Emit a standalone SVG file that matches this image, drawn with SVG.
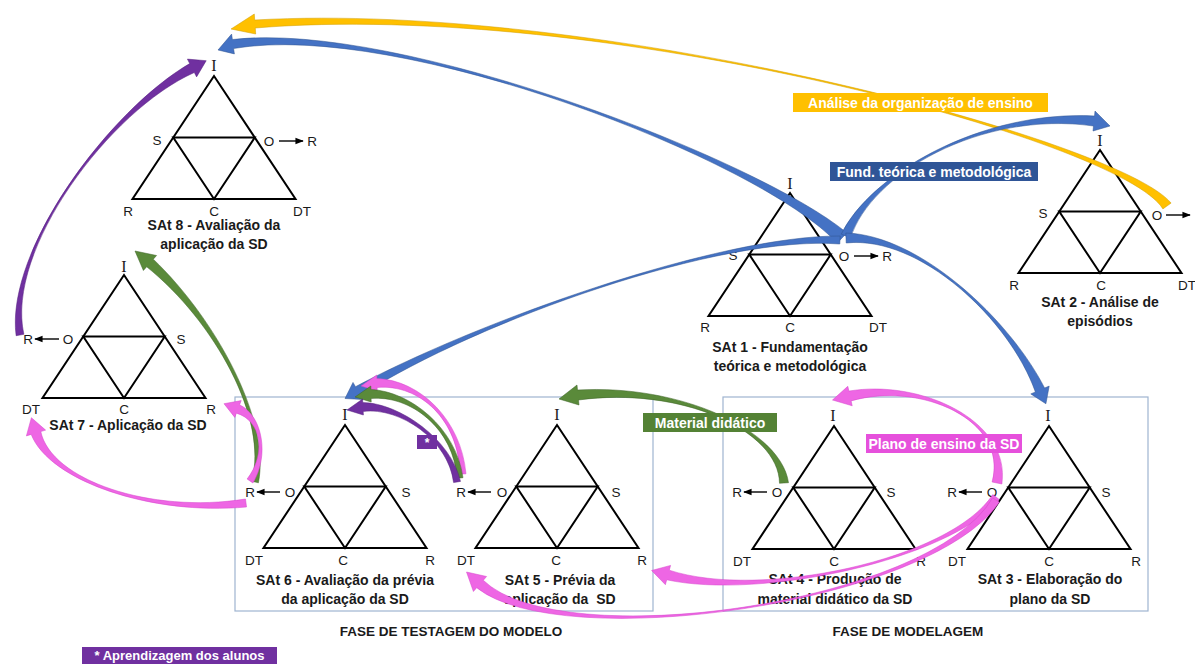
<svg xmlns="http://www.w3.org/2000/svg" xmlns:xlink="http://www.w3.org/1999/xlink" width="1195" height="664" viewBox="0 0 1195 664">
  <defs>
    <style>
      .tri { fill: none; stroke: #000; stroke-width: 2; stroke-linejoin: miter; }
      .v { font-family: "Liberation Sans", Arial, sans-serif; font-size: 13.5px; fill: #1a1a1a; text-anchor: middle; dominant-baseline: central; }
      .vi { font-family: "Liberation Serif", "Times New Roman", serif; font-size: 16px; fill: #1a1a1a; text-anchor: middle; dominant-baseline: central; }
      .ttl { font-family: "Liberation Sans", Arial, sans-serif; font-weight: bold; font-size: 14px; fill: #1a1a1a; text-anchor: middle; }
      .ph { font-family: "Liberation Sans", Arial, sans-serif; font-weight: bold; font-size: 13.5px; fill: #1a1a1a; text-anchor: middle; }
      .tag { font-family: "Liberation Sans", Arial, sans-serif; font-weight: bold; font-size: 14px; fill: #fff; text-anchor: middle; }
      .small-arr { stroke: #000; stroke-width: 1.4; marker-end: url(#tip); }
      .frame { fill: none; stroke: #9fb4d0; stroke-width: 1.2; }
      .y { fill: #FFC000; stroke: #cf9c00; stroke-width: 0.5; }
      .b { fill: #4472C4; stroke: #2F528F; stroke-width: 0.5; }
      .p { fill: #7030A0; stroke: #55217f; stroke-width: 0.5; }
      .g { fill: #5a8a3a; stroke: #3d6226; stroke-width: 0.5; }
      .k { fill: #EE66E4; stroke: #d545ca; stroke-width: 0.5; }
    </style>
    <marker id="tip" viewBox="0 0 10 10" refX="9" refY="5" markerWidth="6" markerHeight="6" orient="auto" markerUnits="strokeWidth">
      <path d="M0,1 L10,5 L0,9 Z" fill="#000"/>
    </marker>
    <!-- triangle with its apex at the origin, split into four -->
    <g id="tri">
      <path class="tri" d="M0,0 L81.5,123 L-81.5,123 Z"/>
      <path class="tri" d="M-40.75,61.5 L40.75,61.5 L0,123 Z"/>
    </g>
  </defs>

  <rect width="1195" height="664" fill="#fff"/>

  <!-- phase frames -->
  <g id="phases">
    <rect class="frame" x="235" y="397" width="418" height="214"/>
    <rect class="frame" x="723" y="397" width="425" height="214"/>
    <text class="ph" x="451" y="636">FASE DE TESTAGEM DO MODELO</text>
    <text class="ph" x="908" y="636">FASE DE MODELAGEM</text>
  </g>

  <!-- SAt 8 -->
  <g id="sat8" transform="translate(214,76)">
    <use xlink:href="#tri"/>
    <text class="vi" x="0" y="-11">I</text>
    <text class="v" x="-57" y="64">S</text>
    <text class="v" x="55" y="65">O</text>
    <line class="small-arr" x1="65" y1="65" x2="89" y2="65"/>
    <text class="v" x="98" y="65">R</text>
    <text class="v" x="-86" y="135">R</text>
    <text class="v" x="0" y="135">C</text>
    <text class="v" x="88" y="135">DT</text>
    <text class="ttl" x="0" y="154">SAt 8 - Avaliação da</text>
    <text class="ttl" x="0" y="173">aplicação da SD</text>
  </g>

  <!-- SAt 7 -->
  <g id="sat7" transform="translate(124,275)">
    <use xlink:href="#tri"/>
    <text class="vi" x="0" y="-9">I</text>
    <text class="v" x="-96" y="64">R</text>
    <line class="small-arr" x1="-65" y1="64" x2="-89" y2="64"/>
    <text class="v" x="-56" y="64">O</text>
    <text class="v" x="57" y="64">S</text>
    <text class="v" x="-93" y="134">DT</text>
    <text class="v" x="0" y="134">C</text>
    <text class="v" x="87" y="134">R</text>
    <text class="ttl" x="4" y="155">SAt 7 - Aplicação da SD</text>
  </g>

  <!-- SAt 1 -->
  <g id="sat1" transform="translate(790,193)">
    <use xlink:href="#tri"/>
    <text class="vi" x="0" y="-10">I</text>
    <text class="v" x="-57" y="62">S</text>
    <text class="v" x="54" y="63">O</text>
    <line class="small-arr" x1="64" y1="63" x2="88" y2="63"/>
    <text class="v" x="97" y="63">R</text>
    <text class="v" x="-85" y="134">R</text>
    <text class="v" x="0" y="134">C</text>
    <text class="v" x="88" y="134">DT</text>
    <text class="ttl" x="0" y="159">SAt 1 - Fundamentação</text>
    <text class="ttl" x="0" y="178">teórica e metodológica</text>
  </g>

  <!-- SAt 2 -->
  <g id="sat2" transform="translate(1100,150)">
    <use xlink:href="#tri"/>
    <text class="vi" x="0" y="-10">I</text>
    <text class="v" x="-57" y="63">S</text>
    <text class="v" x="57" y="65">O</text>
    <line class="small-arr" x1="66" y1="65" x2="90" y2="65"/>
    <text class="v" x="-86" y="135">R</text>
    <text class="v" x="1" y="135">C</text>
    <text class="v" x="87" y="135">DT</text>
    <text class="ttl" x="0" y="157">SAt 2 - Análise de</text>
    <text class="ttl" x="0" y="176">episódios</text>
  </g>

  <!-- SAt 6 -->
  <g id="sat6" transform="translate(345,425)">
    <use xlink:href="#tri"/>
    <text class="vi" x="0" y="-11">I</text>
    <text class="v" x="-95" y="67">R</text>
    <line class="small-arr" x1="-65" y1="67" x2="-88" y2="67"/>
    <text class="v" x="-55" y="67">O</text>
    <text class="v" x="61" y="67">S</text>
    <text class="v" x="-91" y="135">DT</text>
    <text class="v" x="-2" y="135">C</text>
    <text class="v" x="85" y="135">R</text>
    <text class="ttl" x="0" y="160">SAt 6 - Avaliação da prévia</text>
    <text class="ttl" x="0" y="179">da aplicação da SD</text>
  </g>

  <!-- SAt 5 -->
  <g id="sat5" transform="translate(557,425)">
    <use xlink:href="#tri"/>
    <text class="vi" x="0" y="-11">I</text>
    <text class="v" x="-96" y="67">R</text>
    <line class="small-arr" x1="-66" y1="67" x2="-89" y2="67"/>
    <text class="v" x="-55" y="67">O</text>
    <text class="v" x="59" y="67">S</text>
    <text class="v" x="-91" y="135">DT</text>
    <text class="v" x="-1" y="135">C</text>
    <text class="v" x="85" y="135">R</text>
    <text class="ttl" x="3" y="160">SAt 5 - Prévia da</text>
    <text class="ttl" x="3" y="179">aplicação da&#160; SD</text>
  </g>

  <!-- SAt 4 -->
  <g id="sat4" transform="translate(834,426)">
    <use xlink:href="#tri"/>
    <text class="vi" x="-1" y="-11">I</text>
    <text class="v" x="-97" y="66">R</text>
    <line class="small-arr" x1="-67" y1="66" x2="-90" y2="66"/>
    <text class="v" x="-57" y="66">O</text>
    <text class="v" x="57" y="66">S</text>
    <text class="v" x="-92" y="135">DT</text>
    <text class="v" x="0" y="135">C</text>
    <text class="v" x="87" y="135">R</text>
    <text class="ttl" x="1" y="158">SAt 4 - Produção de</text>
    <text class="ttl" x="1" y="178">material didático da SD</text>
  </g>

  <!-- SAt 3 -->
  <g id="sat3" transform="translate(1049,426)">
    <use xlink:href="#tri"/>
    <text class="vi" x="-1" y="-11">I</text>
    <text class="v" x="-97" y="66">R</text>
    <line class="small-arr" x1="-67" y1="66" x2="-90" y2="66"/>
    <text class="v" x="-57" y="66">O</text>
    <text class="v" x="57" y="66">S</text>
    <text class="v" x="-92" y="135">DT</text>
    <text class="v" x="0" y="135">C</text>
    <text class="v" x="87" y="135">R</text>
    <text class="ttl" x="1" y="158">SAt 3 - Elaboração do</text>
    <text class="ttl" x="1" y="178">plano da SD</text>
  </g>

  <!-- curved block connectors -->
  <g id="connectors">
    <!-- SAt 2 O to SAt 8 I -->
    <path class="y" d="M1171.1,203.1 C1119.6,140.3 600.03,0.4 254.7,20 L254.3,14 L231,29 L255.7,34 L255.3,28 C599.97,-0.4 1120.4,139.7 1162.9,208.9 Z"/>
    <!-- SAt 1 O to SAt 8 I -->
    <path class="b" d="M846.8,232.9 C759.7,160.3 400.04,20.27 232.4,39.5 L231.6,34.1 L218,50 L234.4,53.9 L233.6,48.5 C399.96,19.73 760.3,159.7 837.2,243.1 Z"/>
    <!-- SAt 1 O to SAt 2 I -->
    <path class="b" d="M850.7,237.8 C870,175 980,110 1093.5,126 L1093,131 L1110,126 L1095,111 L1094.5,116 C980,110 870,175 841.3,234.2 Z"/>
    <!-- SAt 1 O to SAt 3 I -->
    <path class="b" d="M846.2,243 C920,235 1010,320 1035.4,392 L1030.8,393.9 L1045.9,403.8 L1049.2,386.1 L1044.6,388 C1010,320 920,235 845.8,233 Z"/>
    <!-- SAt 1 O to SAt 6 I -->
    <path class="b" d="M840.2,236 C720,235.3 480.15,320.3 355.5,386.7 L353,382.4 L345,398.5 L363,399.6 L360.5,395.3 C479.85,319.7 720,234.7 839.8,244 Z"/>
    <!-- SAt 7 R to SAt 8 I -->
    <path class="p" d="M23.9,334.3 C5,250 110,110 194.3,72.5 L196.6,76.9 L206.2,60.7 L187.4,59.1 L189.7,63.6 C110,110 5,250 16.1,335.7 Z"/>
    <!-- SAt 6 R to SAt 7 -->
    <path class="g" d="M258.4,482.8 C270.9,420.2 215.8,319.1 153.3,259.2 L156.6,255.5 L135,251 L143.4,270.5 L146.7,266.8 C214.2,320.9 269.1,419.8 251.6,481.2 Z"/>
    <path class="k" d="M252.9,483 C269.4,456 262.8,415.9 239.6,404.8 L241.2,400.6 L224,403.7 L234.8,417.4 L236.4,413.2 C261.2,420.1 266.6,454 247.1,479 Z"/>
    <path class="k" d="M245.5,499 C149.9,514.2 51,479.7 40.8,431.6 L45.6,430.1 L31.4,417.7 L26.4,435.9 L31.2,434.4 C49,480.3 150.1,515.8 246.5,507 Z"/>
    <!-- SAt 5 R to SAt 6 I -->
    <path class="k" d="M466,473.8 C461.2,419.9 420,380.2 376.9,378.5 L376.8,375 L361,386 L377.2,391 L377.1,387.5 C420,383.8 458.8,420.1 460,474.2 Z"/>
    <path class="g" d="M463,477.7 C456.2,427.9 410,391.2 370.9,389.5 L370.8,386 L355,397 L371.2,402 L371.1,398.5 C410,394.8 453.8,428.1 457,478.3 Z"/>
    <path class="p" d="M460.5,481.4 C451.4,439.8 399.9,403.2 362.8,402.5 L362.6,399 L347,410 L363.4,415 L363.2,411.5 C400.1,406.8 448.6,440.2 453.6,482.6 Z"/>
    <!-- SAt 4 O to SAt 5 I -->
    <path class="g" d="M788.5,482.7 C780.9,429.9 679.9,384 577.5,390 L577,385 L559,399 L579,405 L578.5,400 C680.1,386 779.1,430.1 779.5,483.3 Z"/>
    <!-- SAt 3 O to SAt 4 I, SAt 5 R and SAt 5 DT -->
    <path class="k" d="M1001.9,484 C1011,420.2 919.8,379 848.9,391.1 L847.8,386.3 L832.5,400 L852.2,405.8 L851.1,400.9 C920.2,381 1009,419.8 992.1,482 Z"/>
    <path class="k" d="M992.8,494.6 C950,560 760,600 669.3,570.2 L670.6,565.4 L651.6,570.5 L665.4,584.7 L666.7,579.8 C760,600 950,560 999.2,499.4 Z"/>
    <path class="k" d="M992.6,497.9 C930,605 560,655 483.3,580.3 L486.6,576.5 L466.5,572 L473.4,591.5 L476.7,587.7 C560,655 930,605 999.4,502.1 Z"/>
  </g>

  <!-- connector tags -->
  <g id="tags">
    <rect x="793" y="93" width="255" height="19" fill="#FFC000"/>
    <text class="tag" x="920.5" y="107.5">Análise da organização de ensino</text>
    <rect x="830" y="162" width="208" height="19" fill="#2F5597"/>
    <text class="tag" x="934" y="176.5">Fund. teórica e metodológica</text>
    <rect x="643" y="413" width="134" height="19" fill="#548235"/>
    <text class="tag" x="710" y="427.5">Material didático</text>
    <rect x="866" y="434" width="156" height="19" fill="#E650DC"/>
    <text class="tag" x="944" y="448.5">Plano de ensino da SD</text>
    <rect x="417" y="435" width="20" height="14" fill="#7030A0"/>
    <text class="tag" x="427" y="447" style="font-size:12px">*</text>
    <rect x="82" y="647" width="195" height="17" fill="#7030A0"/>
    <text class="tag" x="179.5" y="660" style="font-size:13px">* Aprendizagem dos alunos</text>
  </g>
</svg>
